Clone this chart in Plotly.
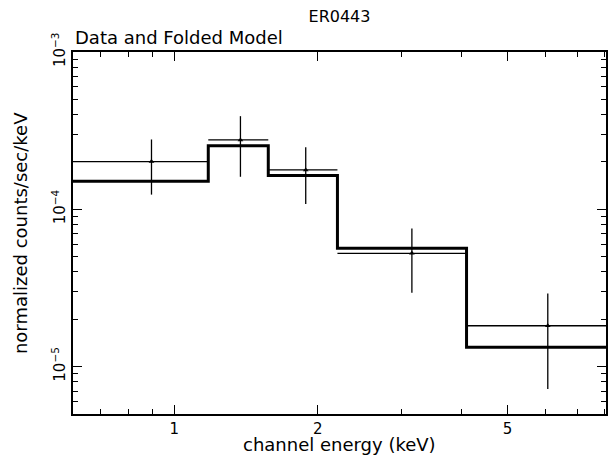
import math
import plotly.graph_objects as go

# ---- data ----
bin_lo = [0.613, 1.178, 1.574, 2.198, 4.10]
bin_hi = [1.178, 1.574, 2.198, 4.10, 8.04]
data_y = [2.01e-4, 2.76e-4, 1.78e-4, 5.25e-5, 1.82e-5]
data_err = [7.7e-5, 1.15e-4, 7.0e-5, 2.3e-5, 1.1e-5]
model_y = [1.51e-4, 2.54e-4, 1.64e-4, 5.65e-5, 1.33e-5]

x_range = [0.613, 8.04]
y_range = [5e-6, 1e-3]
x_major = [1, 2, 5]
x_major_text = ["1", "2", "5"]
x_minor = [0.7, 0.8, 0.9, 3, 4, 6, 7, 8]
y_major = [1e-5, 1e-4, 1e-3]
y_major_text = ["10<sup>\u22125</sup>", "10<sup>\u22124</sup>", "10<sup>\u22123</sup>"]
y_minor = [m * 10 ** e for e in (-6, -5, -4) for m in range(2, 10) if m * 10 ** e >= 5e-6]

centers = [(a + b) / 2 for a, b in zip(bin_lo, bin_hi)]
half_w = [(b - a) / 2 for a, b in zip(bin_lo, bin_hi)]
xr = [math.log10(v) for v in x_range]
yr = [math.log10(v) for v in y_range]

FONT = "DejaVu Sans"
FS = 18

fig = go.Figure()

# folded model: thick step line
fig.add_trace(go.Scatter(
    x=bin_lo + [bin_hi[-1]],
    y=model_y + [model_y[-1]],
    mode="lines",
    line=dict(color="black", width=3, shape="hv"),
    showlegend=False, hoverinfo="skip",
))

# data with bin widths and errors
fig.add_trace(go.Scatter(
    x=centers, y=data_y,
    mode="markers",
    marker=dict(symbol="triangle-up", size=5, color="black"),
    error_x=dict(type="data", array=half_w, color="black", thickness=1.3, width=0),
    error_y=dict(type="data", array=data_err, color="black", thickness=1.3, width=0),
    showlegend=False, hoverinfo="skip",
))

# invisible trace so the mirrored tick axes are drawn
fig.add_trace(go.Scatter(x=[centers[0]], y=[data_y[0]], xaxis="x2", yaxis="y2",
                         mode="markers", marker=dict(opacity=0), showlegend=False,
                         hoverinfo="skip"))

tick_common = dict(ticks="inside", ticklen=9, tickwidth=1.3, tickcolor="black")
minor_common = dict(ticks="inside", ticklen=5, tickwidth=1.3, tickcolor="black", showgrid=False)

fig.update_layout(
    width=608, height=461,
    margin=dict(l=73, r=2, t=52, b=47),
    paper_bgcolor="white", plot_bgcolor="white",
    font=dict(family=FONT, size=FS, color="black"),
    title=dict(text="ER0443", xref="paper", x=0.5, xanchor="center", y=0.965, yanchor="middle",
               font=dict(family=FONT, size=16, color="black")),
    annotations=[
        dict(text="Data and Folded Model", xref="paper", yref="paper",
             x=0.0, y=1.0387, xanchor="left", yanchor="middle",
             showarrow=False, font=dict(family=FONT, size=FS, color="black")),
        dict(text="channel energy (keV)", xref="paper", yref="paper",
             x=0.5, y=-0.084, xanchor="center", yanchor="middle",
             showarrow=False, font=dict(family=FONT, size=FS, color="black")),
        dict(text="normalized counts/sec/keV", xref="paper", yref="paper",
             x=-0.0993, y=0.5, xanchor="center", yanchor="middle", textangle=-90,
             showarrow=False, font=dict(family=FONT, size=FS, color="black")),
    ],
    xaxis=dict(
        type="log", range=xr, automargin=False,
        showline=True, linecolor="black", linewidth=1.5, mirror=True,
        showgrid=False, zeroline=False,
        tickmode="array", tickvals=x_major, ticktext=x_major_text,
        minor=dict(tickmode="array", tickvals=x_minor, **minor_common),
        tickfont=dict(family=FONT, size=15), **tick_common,
    ),
    yaxis=dict(
        type="log", range=yr, automargin=False,
        showline=True, linecolor="black", linewidth=1.5, mirror=True,
        showgrid=False, zeroline=False,
        tickmode="array", tickvals=y_major, ticktext=y_major_text, tickangle=-90,
        minor=dict(tickmode="array", tickvals=y_minor, **minor_common),
        tickfont=dict(family=FONT, size=15), **tick_common,
    ),
    xaxis2=dict(
        type="log", range=xr, overlaying="x", side="top", automargin=False,
        showgrid=False, zeroline=False, showticklabels=False,
        tickmode="array", tickvals=x_major,
        minor=dict(tickmode="array", tickvals=x_minor, **minor_common),
        **tick_common,
    ),
    yaxis2=dict(
        type="log", range=yr, overlaying="y", side="right", automargin=False,
        showgrid=False, zeroline=False, showticklabels=False,
        tickmode="array", tickvals=y_major,
        minor=dict(tickmode="array", tickvals=y_minor, **minor_common),
        **tick_common,
    ),
)

fig.write_html(
    "out.html",
    config={"displayModeBar": False},
    post_script="document.body.style.margin='0';document.body.style.overflow='hidden';",
)
